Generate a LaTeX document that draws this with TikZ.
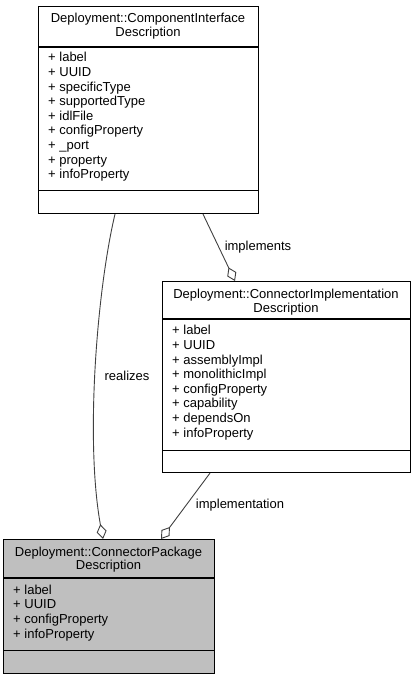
\documentclass[tikz,border=0pt]{standalone}
\usepackage{fontspec}
\setmainfont{Liberation Sans}
\usetikzlibrary{arrows.meta}
\begin{document}
\begin{tikzpicture}[x=1pt,y=-1pt,
  font=\fontsize{13}{14.6}\selectfont,
  classbox/.style={draw=black, line width=1.1pt, inner sep=0pt, anchor=north west},
  sepline/.style={draw=black, line width=1.1pt},
  txt/.style={inner sep=0pt, text height=9.4pt, text depth=2.7pt},
  attr/.style={txt, anchor=west},
  edge/.style={draw=black!75, line width=0.9pt,
    -{Diamond[open, length=15pt, width=10pt, line width=0.9pt]}},
  elabel/.style={txt, anchor=center}]
\useasboundingbox (0,0) rectangle (416,680);

% Box 1: ComponentInterfaceDescription
\node[classbox, minimum width=220pt, minimum height=207pt] (ci) at (38,6) {};
\draw[sepline] ([yshift=-41pt]ci.north west) -- ([yshift=-41pt]ci.north east);
\draw[sepline] ([yshift=24pt]ci.south west) -- ([yshift=24pt]ci.south east);
\node[txt] (ciT1) at (148,19.5) {Deployment::ComponentInterface};
\node[txt] (ciT2) at (148,33.5) {Description};
\foreach \t [count=\i from 0] in {label, UUID, specificType, supportedType, idlFile, configProperty, \_port, property, infoProperty}
  \node[attr] (ciA\i) at (48,58.5+14.6*\i) {+ \t};

% Box 2: ConnectorImplementationDescription
\node[classbox, minimum width=248pt, minimum height=191pt] (cim) at (162,281) {};
\draw[sepline] ([yshift=-38pt]cim.north west) -- ([yshift=-38pt]cim.north east);
\draw[sepline] ([yshift=23pt]cim.south west) -- ([yshift=23pt]cim.south east);
\node[txt] (cimT1) at (286,295.5) {Deployment::ConnectorImplementation};
\node[txt] (cimT2) at (286,309) {Description};
\foreach \t [count=\i from 0] in {label, UUID, assemblyImpl, monolithicImpl, configProperty, capability, dependsOn, infoProperty}
  \node[attr] (cimA\i) at (172,331.5+14.6*\i) {+ \t};

% Box 3: ConnectorPackageDescription
\node[classbox, fill=black!25, minimum width=211pt, minimum height=134pt] (cp) at (3,539) {};
\draw[sepline] ([yshift=-39pt]cp.north west) -- ([yshift=-39pt]cp.north east);
\draw[sepline] ([yshift=24pt]cp.south west) -- ([yshift=24pt]cp.south east);
\node[txt] (cpT1) at (108.5,553) {Deployment::ConnectorPackage};
\node[txt] (cpT2) at (108.5,566.5) {Description};
\foreach \t [count=\i from 0] in {label, UUID, configProperty, infoProperty}
  \node[attr] (cpA\i) at (13,591+14.6*\i) {+ \t};

% Connectors
\draw[edge] ([xshift=77pt]ci.south west) .. controls (97,290) and (85,440) .. ([xshift=100pt]cp.north west);
\node[elabel] (lrealizes) at (127,377) {realizes};

\draw[edge] ([xshift=165pt]ci.south west) -- ([xshift=73pt]cim.north west);
\node[elabel] (limplements) at (258,247) {implements};

\draw[edge] ([xshift=48pt]cim.south west) -- ([xshift=158pt]cp.north west);
\node[elabel] (limplementation) at (240,505) {implementation};
\end{tikzpicture}
\end{document}
